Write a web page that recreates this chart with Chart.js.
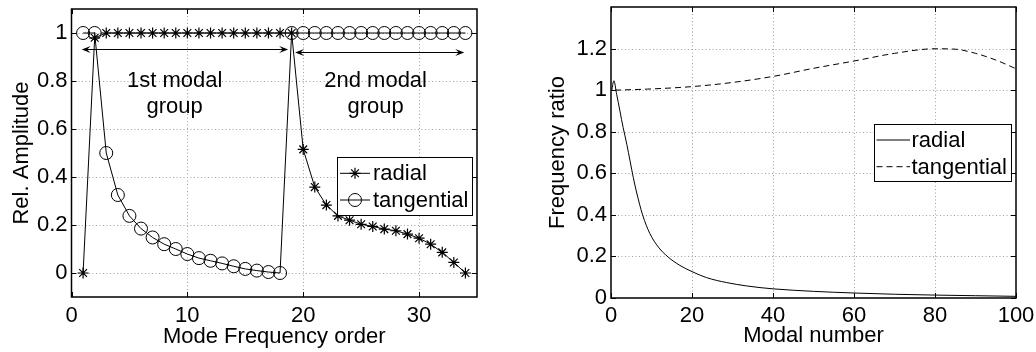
<!DOCTYPE html>
<html><head><meta charset="utf-8">
<script src="https://cdn.jsdelivr.net/npm/chart.js@4.4.0/dist/chart.umd.min.js"></script>
<style>
html,body{margin:0;padding:0;background:#fff;}
#wrap{position:relative;width:1036px;height:352px;overflow:hidden;background:#fff;}
#c1{position:absolute;left:0;top:0;}
#c2{position:absolute;left:500px;top:0;}
</style></head><body>
<div id="wrap"><canvas id="c1" width="500" height="352"></canvas><canvas id="c2" width="536" height="352"></canvas></div>
<script>
// ---------- Left panel data ----------
const modeOrder = [1,2,3,4,5,6,7,8,9,10,11,12,13,14,15,16,17,18,19,20,21,22,23,24,25,26,27,28,29,30,31,32,33,34];
const radialAmplitude = [0,0.98,1,1,1,1,1,1,1,1,1,1,1,1,1,1,1,1,1,0.515,0.358,0.283,0.238,0.22,0.203,0.194,0.183,0.176,0.162,0.145,0.12,0.086,0.044,0];
const tangentialAmplitude = [1,1,0.5,0.325,0.238,0.185,0.148,0.12,0.1,0.079,0.062,0.051,0.04,0.028,0.017,0.01,0.004,0,1,1,1,1,1,1,1,1,1,1,1,1,1,1,1,1];
const leftXTicks = [0,10,20,30];
const leftYTicks = [0,0.2,0.4,0.6,0.8,1];
const groupArrowStart = [0.88, 19.3];
const groupArrowEnd = [18.7, 33.9];
const groupArrowLevel = [0.932, 0.92];
const groupLabelLines = [['1st modal','group'],['2nd modal','group']];
const groupLabelX = [8.9, 26.25];
const groupLabelY = [0.80, 0.69];

// ---------- Right panel data ----------
const radialModalNumber = [0.2,0.7,1.4,2.2,3.0,3.9,4.7,5.5,6.3,7.8,9.6,11.7,14.1,17,20,23.6,28.6,33.5,36.8,40,50,60,70,80,90,100];
const radialRatio = [1.0,1.045,0.98,0.90,0.82,0.74,0.66,0.58,0.51,0.40,0.31,0.245,0.197,0.157,0.127,0.098,0.074,0.058,0.05,0.044,0.032,0.024,0.018,0.014,0.011,0.008];
const tangentialModalNumber = [1,9,20,30,40,50,60,70,80,85,90,95,100];
const tangentialRatio = [1.0,1.005,1.017,1.037,1.066,1.105,1.14,1.177,1.199,1.197,1.177,1.145,1.103];
const rightXTicks = [0,20,40,60,80,100];
const rightYTicks = [0,0.2,0.4,0.6,0.8,1,1.2];

const FONT = '"Liberation Sans", Arial, Helvetica, sans-serif';
Chart.defaults.font.family = FONT;
Chart.defaults.font.size = 22;
Chart.defaults.color = '#000';

function pts(xs, ys){ return xs.map((v,i)=>({x:v, y:ys[i]})); }
const fmt = v => String(Math.round(v*10)/10);

function line(ctx,x1,y1,x2,y2){ ctx.beginPath(); ctx.moveTo(x1,y1); ctx.lineTo(x2,y2); ctx.stroke(); }

const framePlugin = {
  id:'frame',
  beforeDatasetsDraw(chart){
    const {ctx, chartArea:a, scales:{x,y}} = chart;
    ctx.save();
    ctx.strokeStyle = '#a0a0a0'; ctx.lineWidth = 1; ctx.setLineDash([1,2.5]);
    x.ticks.forEach(t=>{ const p = Math.round(x.getPixelForValue(t.value))+0.5; if (p<a.left+2||p>a.right-2) return; line(ctx,p,a.top,p,a.bottom); });
    y.ticks.forEach(t=>{ const p = Math.round(y.getPixelForValue(t.value))+0.5; if (p<a.top+2||p>a.bottom-2) return; line(ctx,a.left,p,a.right,p); });
    ctx.restore();
  },
  afterDatasetsDraw(chart){
    const {ctx, chartArea:a, scales:{x,y}} = chart;
    ctx.save();
    ctx.strokeStyle = '#000'; ctx.lineWidth = 1.5; ctx.setLineDash([]);
    ctx.strokeRect(a.left, a.top, a.right-a.left, a.bottom-a.top);
    ctx.lineWidth = 1;
    const L = 5;
    x.ticks.forEach(t=>{ const p = Math.round(x.getPixelForValue(t.value))+0.5; line(ctx,p,a.bottom,p,a.bottom-L); line(ctx,p,a.top,p,a.top+L); });
    y.ticks.forEach(t=>{ const p = Math.round(y.getPixelForValue(t.value))+0.5; line(ctx,a.left,p,a.left+L,p); line(ctx,a.right,p,a.right-L,p); });
    ctx.restore();
  },
  afterDraw(chart, args, opts){
    const {ctx, chartArea:a} = chart;
    const lg = opts.legend;
    if (lg){
      ctx.save();
      const bx = a.right - lg.inset - lg.w, by = lg.top;
      ctx.fillStyle = '#fff'; ctx.fillRect(bx, by, lg.w, lg.h);
      ctx.strokeStyle = '#000'; ctx.lineWidth = 1; ctx.strokeRect(bx+0.5, by+0.5, lg.w, lg.h);
      chart.data.datasets.forEach((ds,i)=>{
        const yc = by + lg.rows[i];
        ctx.strokeStyle = ds.borderColor; ctx.lineWidth = ds.borderWidth;
        ctx.setLineDash(ds.borderDash || []);
        line(ctx, bx+lg.lineFrom, yc, bx+lg.lineTo, yc);
        ctx.setLineDash([]);
        if (ds.pointRadius > 0){
          ctx.lineWidth = ds.pointBorderWidth;
          ctx.fillStyle = 'rgba(0,0,0,0)';
          Chart.helpers.drawPoint(ctx, {pointStyle: ds.pointStyle, radius: ds.pointRadius, rotation:0, borderWidth: ds.pointBorderWidth}, bx+(lg.lineFrom+lg.lineTo)/2, yc);
        }
        ctx.fillStyle = '#000'; ctx.font = '22px ' + FONT; ctx.textBaseline = 'middle'; ctx.textAlign = 'left';
        ctx.fillText(ds.label, bx + lg.textX, yc + 1);
      });
      ctx.restore();
    }
  }
};

const groupPlugin = {
  id:'groups',
  afterDatasetsDraw(chart){
    const {ctx, scales:{x,y}} = chart;
    ctx.save();
    ctx.strokeStyle = '#000'; ctx.fillStyle = '#000'; ctx.lineWidth = 1;
    const head = (tx, ty, dir) => {
      const Lh = 9, W = 3.5;
      ctx.beginPath();
      ctx.moveTo(tx, ty);
      ctx.lineTo(tx + dir*Lh, ty - W);
      ctx.lineTo(tx + dir*Lh*0.6, ty);
      ctx.lineTo(tx + dir*Lh, ty + W);
      ctx.closePath(); ctx.fill();
    };
    groupArrowStart.forEach((s,i)=>{
      const x1 = x.getPixelForValue(s), x2 = x.getPixelForValue(groupArrowEnd[i]);
      const yy = Math.round(y.getPixelForValue(groupArrowLevel[i]))+0.5;
      line(ctx, x1+3, yy, x2-3, yy);
      head(x1, yy, 1); head(x2, yy, -1);
    });
    ctx.font = '22px ' + FONT; ctx.textAlign = 'center'; ctx.textBaseline = 'middle';
    groupLabelLines.forEach((lines,i)=>{
      lines.forEach((t,j)=>{
        ctx.fillText(t, x.getPixelForValue(groupLabelX[i]), y.getPixelForValue(groupLabelY[j]));
      });
    });
    ctx.restore();
  }
};

function ticksFrom(arr){ return scale => { scale.ticks = arr.map(v=>({value:v})); }; }
function fixX(h){ return s => { s.height = h; s.paddingLeft = 0; s.paddingRight = 0; s.paddingTop = 0; s.paddingBottom = 0; }; }
function fixY(w){ return s => { s.width = w; s.paddingLeft = 0; s.paddingRight = 0; s.paddingTop = 0; s.paddingBottom = 0; }; }

// ---------- Left chart ----------
new Chart(document.getElementById('c1'), {
  type:'line',
  data:{ datasets:[
    { label:'radial', data: pts(modeOrder, radialAmplitude), borderColor:'#000', borderWidth:1,
      pointStyle:'star', pointRadius:5.5, pointBorderWidth:1.2, pointBorderColor:'#000', backgroundColor:'transparent', tension:0 },
    { label:'tangential', data: pts(modeOrder, tangentialAmplitude), borderColor:'#000', borderWidth:1,
      pointStyle:'circle', pointRadius:6.5, pointBorderWidth:1, pointBorderColor:'#000', pointBackgroundColor:'transparent', backgroundColor:'transparent', tension:0 }
  ]},
  options:{
    responsive:false, animation:false, events:[],
    layout:{ padding:{ left:0, right:23, top:9, bottom:0 } },
    plugins:{ legend:{display:false}, tooltip:{enabled:false},
      frame:{ legend:{ inset:5, w:135, h:58, top:157, rows:[16.3,43], lineFrom:3, lineTo:33, textX:36 } } },
    scales:{
      x:{ type:'linear', min:0, max:35, grid:{display:false, drawTicks:false}, border:{display:false},
          afterBuildTicks: ticksFrom(leftXTicks), afterFit: fixX(55),
          ticks:{ padding:5.5, callback: fmt, maxRotation:0 },
          title:{ display:true, text:'Mode Frequency order', padding:{top:0,bottom:2} } },
      y:{ type:'linear', min:-0.1, max:1.1, grid:{display:false, drawTicks:false}, border:{display:false},
          afterBuildTicks: ticksFrom(leftYTicks), afterFit: fixY(71.5),
          ticks:{ padding:4, callback: fmt },
          title:{ display:true, text:'Rel. Amplitude', padding:{top:9,bottom:0} } }
    }
  },
  plugins:[framePlugin, groupPlugin]
});

// ---------- Right chart ----------
new Chart(document.getElementById('c2'), {
  type:'line',
  data:{ datasets:[
    { label:'radial', data: pts(radialModalNumber, radialRatio), borderColor:'#000', borderWidth:1,
      pointRadius:0, cubicInterpolationMode:'monotone', fill:false },
    { label:'tangential', data: pts(tangentialModalNumber, tangentialRatio), borderColor:'#000', borderWidth:1,
      borderDash:[6,4], pointRadius:0, cubicInterpolationMode:'monotone', fill:false }
  ]},
  options:{
    responsive:false, animation:false, events:[],
    layout:{ padding:{ left:45, right:20, top:7, bottom:0 } },
    plugins:{ legend:{display:false}, tooltip:{enabled:false},
      frame:{ legend:{ inset:5, w:137, h:57, top:124, rows:[16,42.7], lineFrom:2.5, lineTo:36, textX:37.5 } } },
    scales:{
      x:{ type:'linear', min:0, max:100, grid:{display:false, drawTicks:false}, border:{display:false},
          afterBuildTicks: ticksFrom(rightXTicks), afterFit: fixX(54),
          ticks:{ padding:4.5, callback: fmt, maxRotation:0 },
          title:{ display:true, text:'Modal number', padding:{top:0,bottom:3} } },
      y:{ type:'linear', min:0, max:1.4, grid:{display:false, drawTicks:false}, border:{display:false},
          afterBuildTicks: ticksFrom(rightYTicks), afterFit: fixY(66),
          ticks:{ padding:4, callback: fmt },
          title:{ display:true, text:'Frequency ratio', padding:{top:0,bottom:0} } }
    }
  },
  plugins:[framePlugin]
});
</script>
</body></html>
